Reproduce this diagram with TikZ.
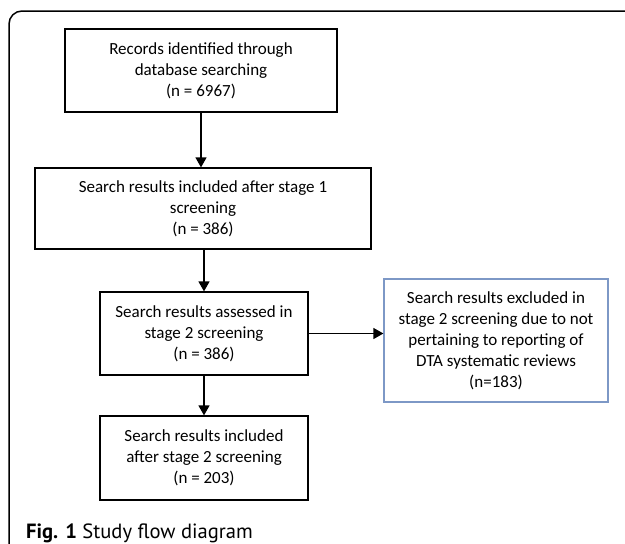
\documentclass[tikz,border=0pt]{standalone}
\usepackage{fontspec}
\setmainfont{Carlito}
\newfontfamily\capfont{PT Sans}
\usepackage{xcolor}
\usetikzlibrary{arrows.meta, positioning}

\definecolor{excblue}{RGB}{125,152,198}

\tikzset{
    flowbox/.style={draw, line width=1.2pt, align=center, inner sep=0pt,
        font=\fontsize{17}{21}\selectfont},
    flowarrow/.style={-{Triangle[length=10pt, width=11pt]}, line width=1.2pt}
}

\begin{document}
\begin{tikzpicture}[x=1pt, y=-1pt]
    \useasboundingbox (0,0) rectangle (625,544);

    % Khung ngoài (chỉ cạnh trên và cạnh trái, góc bo tròn)
    \draw[line width=1.5pt, rounded corners=13pt] (625,11) -- (9,11) -- (9,544);

    % Các hộp của sơ đồ
    \node[flowbox, minimum width=272pt, minimum height=83pt] (records) at (201,70.5)
        {Records identified through\\database searching\\(n = 6967)};
    \node[flowbox, minimum width=336pt, minimum height=81pt] (stageone) at (203,208.5)
        {Search results included after stage 1\\screening\\(n = 386)};
    \node[flowbox, minimum width=208pt, minimum height=83pt] (assessed) at (204,333.5)
        {Search results assessed in\\stage 2 screening\\(n = 386)};
    \node[flowbox, draw=excblue, minimum width=224pt, minimum height=123pt] (excluded) at (496,340.5)
        {Search results excluded in\\stage 2 screening due to not\\pertaining to reporting of\\DTA systematic reviews\\(n=183)};
    \node[flowbox, minimum width=208pt, minimum height=84pt] (included) at (204,458)
        {Search results included\\after stage 2 screening\\(n = 203)};

    % Mũi tên
    \draw[flowarrow] (records.south) -- (records.south |- stageone.north);
    \draw[flowarrow] (assessed.south |- stageone.south) -- (assessed.north);
    \draw[flowarrow] (assessed.east) -- (assessed.east -| excluded.west);
    \draw[flowarrow] (assessed.south) -- (included.north);

    % Chú thích hình
    \node[anchor=base west, inner sep=0pt, font=\capfont\fontsize{20.6}{25}\selectfont] (caption) at (26,538)
        {\textbf{Fig. 1} Study flow diagram};
\end{tikzpicture}
\end{document}
